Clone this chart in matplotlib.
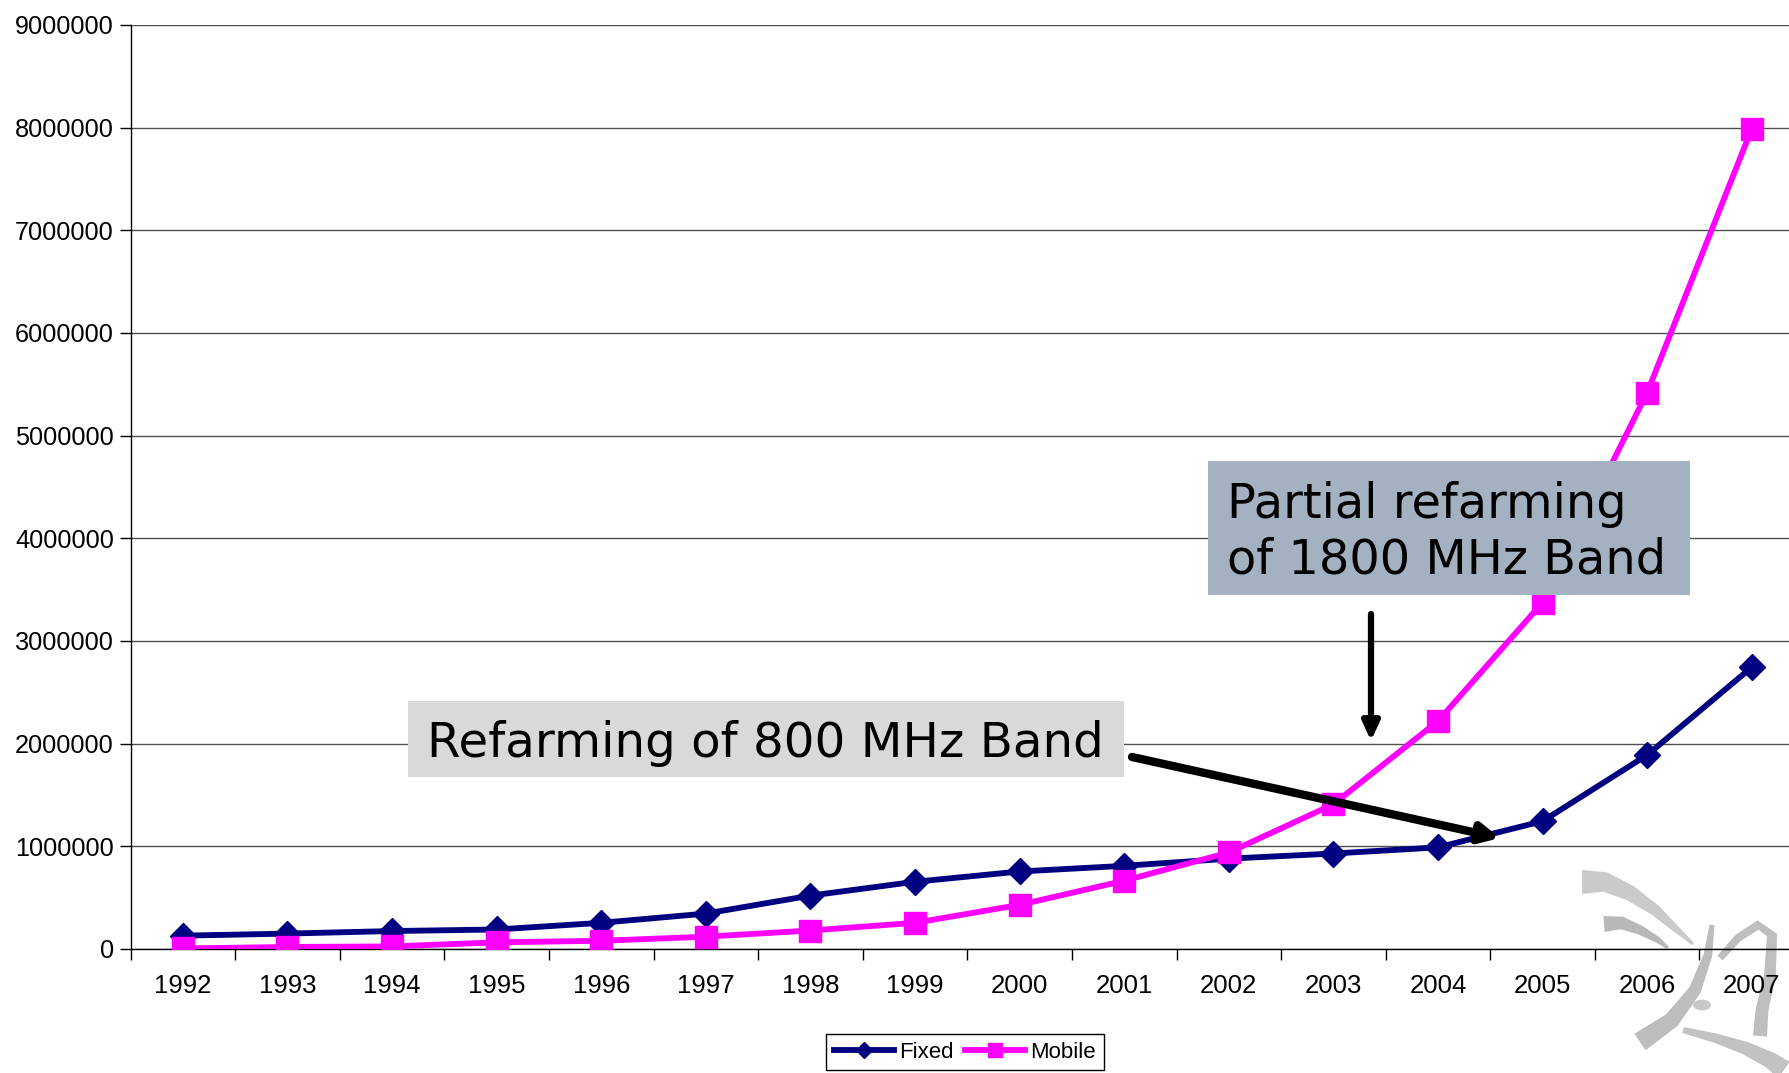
import numpy as np
import matplotlib
matplotlib.use("Agg")
import matplotlib.pyplot as plt
from matplotlib.patches import Rectangle, Polygon, Circle

years = ["1992", "1993", "1994", "1995", "1996", "1997", "1998", "1999",
         "2000", "2001", "2002", "2003", "2004", "2005", "2006", "2007"]
fixed = [130000, 150000, 175000, 190000, 255000, 345000, 520000, 655000,
         755000, 810000, 880000, 930000, 990000, 1245000, 1890000, 2745000]
mobile = [5000, 20000, 25000, 65000, 80000, 120000, 180000, 255000,
          430000, 665000, 940000, 1410000, 2220000, 3375000, 5420000, 7990000]
yticks = [0, 1000000, 2000000, 3000000, 4000000, 5000000, 6000000, 7000000, 8000000, 9000000]

W, H = 1790, 1073
plt.rcParams['font.family'] = ['Liberation Sans', 'DejaVu Sans']
fig = plt.figure(figsize=(W / 100, H / 100), dpi=100)
fig.patch.set_facecolor('white')

def fx(px):
    return px / W

def fy(py):
    return 1 - py / H

ax_left, ax_top, ax_bot = 130.5, 25, 949
ax = fig.add_axes([fx(ax_left), fy(ax_bot), 1 - fx(ax_left), fy(ax_top) - fy(ax_bot)])
ax.set_facecolor('none')

x = np.arange(len(years))
ax.plot(x, fixed, color='#000080', lw=4.2, marker='D', markersize=13.5, label='Fixed', zorder=4)
ax.plot(x, mobile, color='#FF00FF', lw=4.2, marker='s', markersize=16.5, label='Mobile', zorder=4)

ax.set_yticks(yticks)
ax.set_yticklabels([str(v) for v in yticks], fontsize=18.2)
ax.yaxis.grid(True, color='#505050', lw=1)
ax.set_axisbelow(True)

ax.set_xticks(np.arange(-0.5, len(years), 1))
ax.set_xticklabels([])
ax.set_xticks(x, minor=True)
ax.set_xticklabels(years, minor=True, fontsize=18.5)
ax.tick_params(axis='x', which='major', direction='out', length=8, color='black', width=1)
ax.tick_params(axis='x', which='minor', length=0, pad=18)
ax.tick_params(axis='y', direction='out', length=8, width=1, pad=4)

spacing = 104.6
ax.set_xlim(-0.5, -0.5 + (W - ax_left) / spacing)
ax.set_ylim(0, 9000000)

for s in ['top', 'right']:
    ax.spines[s].set_visible(False)
for s in ['left', 'bottom']:
    ax.spines[s].set_color('black')
    ax.spines[s].set_linewidth(1)

# Annotation boxes (figure pixel coordinates)
fig.patches.append(Rectangle((fx(1208), fy(595)), fx(1690) - fx(1208), fy(461) - fy(595),
                             transform=fig.transFigure, facecolor='#A3B1C0', edgecolor='none', zorder=5))
fig.text(fx(1227), fy(518), "Partial refarming", fontsize=34.5, family='DejaVu Sans',
         va='baseline', ha='left', color='black', zorder=6)
fig.text(fx(1227), fy(573), "of 1800 MHz Band", fontsize=34.5, family='DejaVu Sans',
         va='baseline', ha='left', color='black', zorder=6)

fig.patches.append(Rectangle((fx(408), fy(777)), fx(1124) - fx(408), fy(701) - fy(777),
                             transform=fig.transFigure, facecolor='#D9D9D9', edgecolor='none', zorder=5))
fig.text(fx(427), fy(757), "Refarming of 800 MHz Band", fontsize=34.8, family='DejaVu Sans',
         va='baseline', ha='left', color='black', zorder=6)

# Arrows
ax.annotate("", xy=(fx(1500), fy(838)), xytext=(fx(1132), fy(757)),
            xycoords='figure fraction', textcoords='figure fraction',
            arrowprops=dict(arrowstyle='-|>,head_length=1.1,head_width=0.55', color='black', lw=6,
                            shrinkA=0, shrinkB=0), zorder=7)
ax.annotate("", xy=(fx(1371), fy(741)), xytext=(fx(1371), fy(614)),
            xycoords='figure fraction', textcoords='figure fraction',
            arrowprops=dict(arrowstyle='-|>,head_length=1.1,head_width=0.5', color='black', lw=4.5,
                            shrinkA=0, shrinkB=0), zorder=7)

# Legend
leg = fig.legend(loc='center', bbox_to_anchor=(fx(965), fy(1052)), ncol=2, fontsize=16,
                 handlelength=2.7, handletextpad=0.25, columnspacing=0.5, borderpad=0.35,
                 frameon=True, fancybox=False, edgecolor='black', framealpha=1, markerscale=0.6)
leg.get_frame().set_linewidth(1)

# Watermark logo (decorative, behind the axes content)
def stroke(pts, w0, w1, color):
    pts = np.array(pts, dtype=float)
    n = len(pts)
    widths = np.linspace(w0, w1, n)
    d = np.gradient(pts, axis=0)
    nrm = np.stack([-d[:, 1], d[:, 0]], axis=1)
    nrm /= np.linalg.norm(nrm, axis=1, keepdims=True)
    a = pts + nrm * widths[:, None] / 2
    b = pts - nrm * widths[:, None] / 2
    poly = np.vstack([a, b[::-1]])
    polyf = np.column_stack([poly[:, 0] / W, 1 - poly[:, 1] / H])
    fig.patches.append(Polygon(polyf, closed=True, transform=fig.transFigure,
                               facecolor=color, edgecolor='none', zorder=-1))

stroke([(1582, 882), (1605, 882), (1630, 893), (1655, 910), (1675, 928), (1693, 944)], 24, 3, '#CACACA')
stroke([(1604, 924), (1622, 923), (1640, 930), (1658, 940), (1668, 948)], 16, 3, '#B8B8B8')
stroke([(1712, 925), (1708, 955), (1695, 990), (1672, 1020), (1640, 1042)], 5, 20, '#BDBDBD')
stroke([(1720, 958), (1738, 938), (1758, 925), (1772, 935), (1770, 975), (1762, 1010), (1760, 1036)],
       7, 14, '#BEBEBE')
stroke([(1683, 1030), (1715, 1038), (1745, 1048), (1770, 1060), (1784, 1070)], 6, 20, '#C2C2C2')
fig.patches.append(Circle((fx(1702), fy(1005)), 9 / W, transform=fig.transFigure,
                          facecolor='#C8C8C8', edgecolor='none', zorder=-1))

fig.savefig("out.png", dpi=100, facecolor='white')
